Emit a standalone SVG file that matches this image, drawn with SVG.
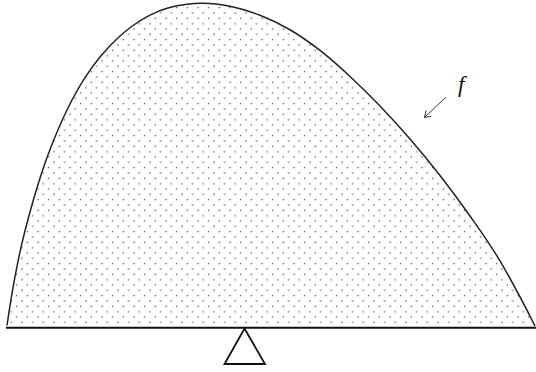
<svg xmlns="http://www.w3.org/2000/svg" width="536" height="372" viewBox="0 0 536 372">
<style>
.curve{fill:none;stroke:#222;stroke-width:1.5}
.base{stroke:#111;stroke-width:2}
.tri{fill:none;stroke:#111;stroke-width:1.8;stroke-linejoin:miter}
.arr{fill:none;stroke:#333;stroke-width:1}
.lbl{font-family:"Liberation Serif",serif;font-style:italic;font-size:23px;fill:#111}
.dot{fill:#333}
</style>
<defs>
<pattern id="dots" patternUnits="userSpaceOnUse" x="0.67" y="2.33" width="10.667" height="10.667">
<rect class="dot" x="-0.6" y="-0.6" width="1.2" height="1.2"/>
<rect class="dot" x="10.07" y="-0.6" width="1.2" height="1.2"/>
<rect class="dot" x="-0.6" y="10.07" width="1.2" height="1.2"/>
<rect class="dot" x="10.07" y="10.07" width="1.2" height="1.2"/>
<rect class="dot" x="4.73" y="4.73" width="1.2" height="1.2"/>
</pattern>
<path id="fpath" d="M7,325.5 C8.67,314.17 10.33,303.23 12,293.4 C14,281.6 16,270.9 18,261.3 C20.33,250.1 22.67,239.9 25,230.8 C27.67,220.4 30.33,210.53 33,201.2 C36,190.7 39,181 42,172 C44.67,164 47.33,156.53 50,149.6 C55.67,134.87 61.33,121.62 67,110 C73,97.7 79,87 85,77.7 C90,69.95 95,63 100,57 C106.67,49 113.33,42 120,36 C124.33,32.1 128.67,28.62 133,25.5 C138.67,21.42 144.33,17.93 150,15.1 C155.67,12.27 161.33,10 167,8.3 C173,6.5 179,5.28 185,4.5 C191,3.72 197,3.3 203,3.3 C212,3.3 221,4.42 230,6.27 C240,8.32 250,11.37 260,15.3 C270,19.23 280,23.9 290,29.76 C300,35.62 310,42.68 320,50.46 C330,58.24 340,67.21 350,76.46 C360,85.71 370,95.54 380,105.96 C390,116.38 400,127.38 410,138.96 C420,150.54 430,162.63 440,175.46 C450,188.29 460,201.71 470,215.96 C480,230.21 490,244.03 500,260.96 C511.67,280.72 523.33,302.66 535,326"/>
<marker id="head" markerWidth="10" markerHeight="10" refX="8" refY="4" orient="auto" markerUnits="userSpaceOnUse">
<path d="M2,0 L8,4 L2,8" fill="none" stroke="#333" stroke-width="1"/>
</marker>
</defs>
<g id="region">
<path fill="url(#dots)" d="M7,325.5 C8.67,314.17 10.33,303.23 12,293.4 C14,281.6 16,270.9 18,261.3 C20.33,250.1 22.67,239.9 25,230.8 C27.67,220.4 30.33,210.53 33,201.2 C36,190.7 39,181 42,172 C44.67,164 47.33,156.53 50,149.6 C55.67,134.87 61.33,121.62 67,110 C73,97.7 79,87 85,77.7 C90,69.95 95,63 100,57 C106.67,49 113.33,42 120,36 C124.33,32.1 128.67,28.62 133,25.5 C138.67,21.42 144.33,17.93 150,15.1 C155.67,12.27 161.33,10 167,8.3 C173,6.5 179,5.28 185,4.5 C191,3.72 197,3.3 203,3.3 C212,3.3 221,4.42 230,6.27 C240,8.32 250,11.37 260,15.3 C270,19.23 280,23.9 290,29.76 C300,35.62 310,42.68 320,50.46 C330,58.24 340,67.21 350,76.46 C360,85.71 370,95.54 380,105.96 C390,116.38 400,127.38 410,138.96 C420,150.54 430,162.63 440,175.46 C450,188.29 460,201.71 470,215.96 C480,230.21 490,244.03 500,260.96 C511.67,280.72 523.33,302.66 535,326 L535,327 L7,327 Z"/>
</g>
<g id="f-curve">
<use href="#fpath" class="curve"/>
</g>
<g id="baseline">
<line class="base" x1="6" y1="327.7" x2="536" y2="327.7"/>
</g>
<g id="fulcrum">
<path class="tri" d="M244.5,328.5 L265,364 L224.5,364 Z"/>
</g>
<g id="label-f">
<text class="lbl" x="458" y="92">f</text>
</g>
<g id="connectors">
<line class="arr" x1="445.7" y1="97.3" x2="424.5" y2="117.5" marker-end="url(#head)"/>
</g>
</svg>
